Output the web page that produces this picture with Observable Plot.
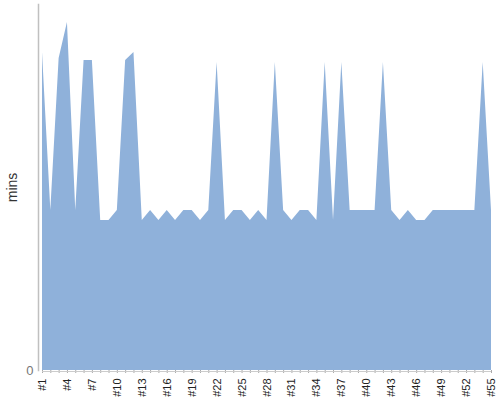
<!DOCTYPE html>
<html>
<head>
<meta charset="utf-8">
<script src="https://cdn.jsdelivr.net/npm/d3@7"></script>
<script src="https://cdn.jsdelivr.net/npm/@observablehq/plot@0.6"></script>
<style>
  html, body { margin: 0; padding: 0; background: #fff; }
  svg { display: block; }
</style>
</head>
<body>
<div id="chart"></div>
<script>
const categories = Array.from({length: 55}, (_, i) => "#" + (i + 1));
const minutes = [
  31.8, 16, 31.2, 34.8, 16, 31, 31, 15, 15, 16,
  31, 31.8, 15, 16, 15, 16, 15, 16, 16, 15,
  16, 30.8, 15, 16, 16, 15, 16, 15, 30.8, 16,
  15, 16, 16, 15, 30.8, 15, 30.8, 16, 16, 16,
  16, 30.8, 16, 15, 16, 15, 15, 16, 16, 16,
  16, 16, 16, 30.8, 16
];
const yTicks = [0];
const yLabel = "mins";

const data = categories.map((c, i) => ({cat: c, val: minutes[i]}));

const chart = Plot.plot({
  width: 500,
  height: 400,
  marginLeft: 42,
  marginRight: 9,
  marginTop: 4,
  marginBottom: 30,
  style: {fontFamily: "Liberation Sans, Arial, sans-serif", fontSize: "11px", background: "#fff"},
  x: {type: "point", domain: categories, padding: 0, round: false},
  y: {domain: [0, 36.6]},
  marks: [
    Plot.areaY(data, {x: "cat", y: "val", fill: "#8fb1da", curve: "linear"}),
    Plot.frame({anchor: "left", dx: -4, stroke: "#c0c0c0", strokeWidth: 1.5}),
    Plot.axisY({ticks: yTicks, tickSize: 0, tickPadding: 9, fill: "#777", fontSize: 13, label: null}),
    Plot.axisY({ticks: [], label: yLabel, labelAnchor: "center", labelArrow: "none",
      labelOffset: 35, fontSize: 14, fill: "#333"}),
    Plot.axisX({tickSize: 3, tickRotate: -90, tickPadding: 5, stroke: "#aaa", fill: "#222",
      label: null, tickFormat: (d, i) => (i % 3 === 0 ? d : "")}),
    Plot.ruleY([0], {stroke: "#ccc", dy: 1})
  ]
});
document.getElementById("chart").appendChild(chart);
</script>
</body>
</html>
